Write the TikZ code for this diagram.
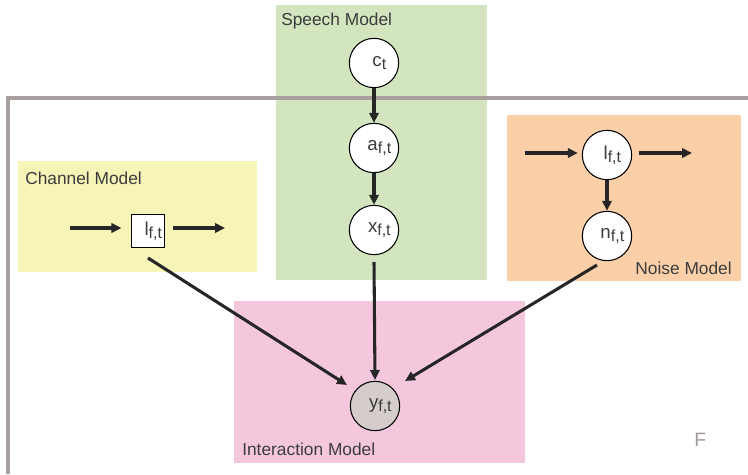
\documentclass[tikz,border=0pt]{standalone}
\usepackage{fontspec}
\setmainfont{Liberation Sans}
\usetikzlibrary{arrows.meta}
\definecolor{speechgreen}{HTML}{D2E5BE}
\definecolor{chanyellow}{HTML}{F6F5B7}
\definecolor{noiseorange}{HTML}{FBD0A8}
\definecolor{interpink}{HTML}{F5C7DD}
\definecolor{framegray}{HTML}{A8A09E}
\definecolor{obsgray}{HTML}{D4CDCB}
\definecolor{labelgray}{HTML}{3C3C3C}
\definecolor{fgray}{HTML}{A09A9A}
\newcommand\vsub[2]{\hspace*{8pt}#1{\fontsize{12}{12}\selectfont\raisebox{-2pt}{#2}}}
\begin{document}
\begin{tikzpicture}[x=0.75pt,y=-0.75pt,
  rlabel/.style={font=\fontsize{13}{13}\selectfont,text=labelgray,inner sep=0pt},
  var/.style={circle,draw=black,line width=0.8pt,fill=white,minimum size=37pt,inner sep=0pt,font=\fontsize{14}{14}\selectfont,text=labelgray},
  sqvar/.style={rectangle,draw=black,line width=0.8pt,fill=white,minimum size=25pt,inner sep=0pt,font=\fontsize{14}{14}\selectfont,text=labelgray},
  edge/.style={line width=2.3pt,draw=black!85,-{Triangle[length=7.5pt,width=7pt]}}]
\useasboundingbox (0,0) rectangle (748,474);
% regions
\fill[speechgreen] (276,5) rectangle (487,280);
\fill[chanyellow] (18,161) rectangle (257,272);
\fill[noiseorange] (507,115) rectangle (741,281);
\fill[interpink] (234,301) rectangle (525,463);
% plate frame
\draw[framegray,line width=2.6pt] (8,474) -- (8,98) -- (748,98);
% region labels
\node[rlabel,anchor=base west] (lspeech) at (281,26) {Speech Model};
\node[rlabel,anchor=base west] (lchan) at (25,184) {Channel Model};
\node[rlabel,anchor=base east] (lnoise) at (732,274) {Noise Model};
\node[rlabel,anchor=base west] (linter) at (242,455) {Interaction Model};
\node[font=\fontsize{14.5}{14.5}\selectfont,text=fgray,inner sep=0pt,anchor=base west] (F) at (694,446) {F};
% nodes
\node[var] (c) at (374,63) {\vsub{c}{t}};
\node[var] (a) at (374,148) {\vsub{a}{f,t}};
\node[var] (x) at (374,230) {\vsub{x}{f,t}};
\node[var,fill=obsgray] (y) at (375,406) {\vsub{y}{f,t}};
\node[sqvar] (lc) at (148,231) {\vsub{l}{f,t}};
\node[var] (ln) at (607,155) {\vsub{l}{f,t}};
\node[var] (n) at (607,236) {\vsub{n}{f,t}};
% free ends
\coordinate (cin) at (70,228);
\coordinate (cout) at (225,228);
\coordinate (nin) at (525,153);
\coordinate (nout) at (692,153);
% edges
\draw[edge] (c) -- (a);
\draw[edge] (a) -- (x);
\draw[edge] (ln) -- (n);
\draw[edge,shorten >=7pt] (cin) -- (lc.west |- cin);
\draw[edge,shorten <=6pt] (lc.east |- cout) -- (cout);
\draw[edge,shorten >=3pt] (nin) -- (ln.west |- nin);
\draw[edge,shorten <=5pt] (ln.east |- nout) -- (nout);
\draw[edge] ([shift={(0,27)}]lc.center) -- ([shift={(-28,-21)}]y.center);
\draw[edge] ([shift={(0,32)}]x.center) -- ([shift={(0,-26)}]y.center);
\draw[edge] ([shift={(-10,29)}]n.center) -- ([shift={(30,-25)}]y.center);
\end{tikzpicture}
\end{document}
